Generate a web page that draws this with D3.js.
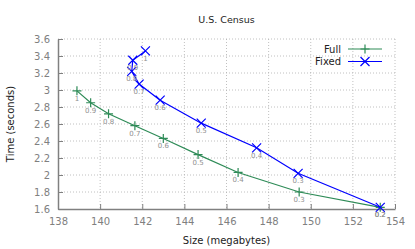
<!DOCTYPE html>
<html>
<head>
<meta charset="utf-8">
<script src="https://cdn.jsdelivr.net/npm/d3@7"></script>
<style>
  body { margin: 0; background: #fff; }
  text { font-family: "DejaVu Sans", sans-serif; }
</style>
</head>
<body>
<svg id="wrapper" width="415" height="249"></svg>
<script>
// point labels (fraction)
let levels = ["1", "0.9", "0.8", "0.7", "0.6", "0.5", "0.4", "0.3", "0.2"];

let fullSize = [138.9, 139.55, 140.4, 141.65, 143.0, 144.65, 146.55, 149.45, 153.3];
let fullTime = [2.99, 2.85, 2.72, 2.58, 2.43, 2.24, 2.03, 1.80, 1.62];

let fixedSize = [142.15, 141.55, 141.5, 141.85, 142.85, 144.8, 147.43, 149.4, 153.3];
let fixedTime = [3.46, 3.35, 3.22, 3.07, 2.88, 2.61, 2.32, 2.02, 1.62];

let xTicks = [138, 140, 142, 144, 146, 148, 150, 152, 154];
let yTicks = [1.6, 1.8, 2, 2.2, 2.4, 2.6, 2.8, 3, 3.2, 3.4, 3.6];

let svg = d3.select("#wrapper");

const plotLeft = 58, plotRight = 395, plotTop = 39, plotBottom = 209;

let x = d3.scaleLinear().domain([138, 154]).range([plotLeft, plotRight]);
let y = d3.scaleLinear().domain([1.6, 3.6]).range([plotBottom, plotTop]);

// grid
svg.append("g")
	.selectAll("line")
	.data(xTicks.slice(1))
	.enter()
	.append("line")
	.attr("x1", (d) => x(d)).attr("x2", (d) => x(d))
	.attr("y1", plotTop).attr("y2", plotBottom)
	.attr("stroke", "#b0b0b0")
	.attr("stroke-width", 0.8)
	.attr("stroke-dasharray", "1,2");
svg.append("g")
	.selectAll("line")
	.data(yTicks.slice(1))
	.enter()
	.append("line")
	.attr("x1", plotLeft).attr("x2", plotRight)
	.attr("y1", (d) => y(d)).attr("y2", (d) => y(d))
	.attr("stroke", "#b0b0b0")
	.attr("stroke-width", 0.8)
	.attr("stroke-dasharray", "1,2");

// axes
let xAxis = svg.append("g")
	.attr("transform", "translate(0," + plotBottom + ")")
	.call(d3.axisBottom(x).tickValues(xTicks).tickSizeInner(-5).tickSizeOuter(0).tickPadding(9).tickFormat(d3.format("d")));
let yAxis = svg.append("g")
	.attr("transform", "translate(" + plotLeft + ",0)")
	.call(d3.axisLeft(y).tickValues(yTicks).tickSizeInner(-5).tickSizeOuter(0).tickPadding(8).tickFormat((d) => String(+d.toFixed(1))));

[xAxis, yAxis].forEach((g) => {
	g.select(".domain").attr("stroke", "#808080").attr("stroke-width", 1.5);
	g.selectAll(".tick line").attr("stroke", "#808080").attr("stroke-width", 1);
	g.selectAll(".tick text").attr("fill", "#808080").style("font-size", "10px");
});

// series
let series = [
	{ name: "Full", xs: fullSize, ys: fullTime, color: "#2e8b57", marker: "plus" },
	{ name: "Fixed", xs: fixedSize, ys: fixedTime, color: "#0000ff", marker: "cross" },
];

let markerPath = function (type, cx, cy) {
	let s = 4.5;
	if (type === "plus") {
		return "M" + (cx - s) + "," + cy + "H" + (cx + s) + "M" + cx + "," + (cy - s) + "V" + (cy + s);
	}
	return "M" + (cx - s) + "," + (cy - s) + "L" + (cx + s) + "," + (cy + s) +
		"M" + (cx - s) + "," + (cy + s) + "L" + (cx + s) + "," + (cy - s);
};

let line = d3.line().x((d) => x(d[0])).y((d) => y(d[1]));

series.forEach((s) => {
	let pts = s.xs.map((v, i) => [v, s.ys[i], levels[i]]);
	svg.append("path")
		.datum(pts)
		.attr("d", line)
		.attr("fill", "none")
		.attr("stroke", s.color)
		.attr("stroke-width", 1.2);
	svg.append("g")
		.selectAll("path")
		.data(pts)
		.enter()
		.append("path")
		.attr("d", (d) => markerPath(s.marker, x(d[0]), y(d[1])))
		.attr("stroke", s.color)
		.attr("stroke-width", 1.2)
		.attr("fill", "none");
	svg.append("g")
		.selectAll("text")
		.data(pts)
		.enter()
		.append("text")
		.attr("x", (d) => x(d[0]))
		.attr("y", (d) => y(d[1]) + 10)
		.attr("text-anchor", "middle")
		.attr("fill", "#909090")
		.style("font-size", "7px")
		.text((d) => d[2]);
});

// legend
series.forEach((s, i) => {
	let ly = 49 + i * 12.5;
	svg.append("text")
		.attr("x", 341)
		.attr("y", ly + 3.5)
		.attr("text-anchor", "end")
		.attr("fill", "#222")
		.style("font-size", "10px")
		.text(s.name);
	svg.append("line")
		.attr("x1", 348).attr("x2", 382)
		.attr("y1", ly).attr("y2", ly)
		.attr("stroke", s.color)
		.attr("stroke-width", 1.2);
	svg.append("path")
		.attr("d", markerPath(s.marker, 365, ly))
		.attr("stroke", s.color)
		.attr("stroke-width", 1.2);
});

// titles
svg.append("text")
	.attr("x", (plotLeft + plotRight) / 2)
	.attr("y", 23)
	.attr("text-anchor", "middle")
	.attr("fill", "#222")
	.style("font-size", "9.5px")
	.text("U.S. Census");
svg.append("text")
	.attr("x", (plotLeft + plotRight) / 2)
	.attr("y", 244)
	.attr("text-anchor", "middle")
	.attr("fill", "#222")
	.style("font-size", "10px")
	.text("Size (megabytes)");
svg.append("text")
	.attr("transform", "translate(14," + (plotTop + plotBottom) / 2 + ") rotate(-90)")
	.attr("text-anchor", "middle")
	.attr("fill", "#222")
	.style("font-size", "10px")
	.text("Time (seconds)");
</script>
</body>
</html>
